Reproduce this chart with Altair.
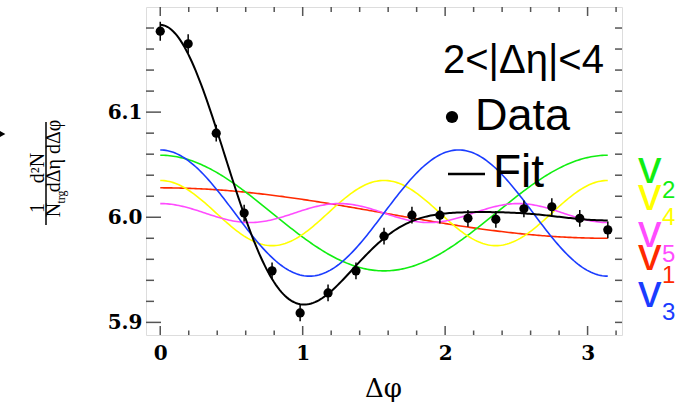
import numpy as np
import pandas as pd
import altair as alt

# ---------------- data ----------------
phi_points = [0.000, 0.196, 0.393, 0.589, 0.785, 0.982, 1.178, 1.374, 1.571,
              1.767, 1.963, 2.160, 2.356, 2.553, 2.749, 2.945, 3.142]
yield_points = [6.177, 6.165, 6.080, 6.004, 5.949, 5.909, 5.928, 5.949, 5.982,
                6.002, 6.002, 5.999, 5.998, 6.008, 6.010, 5.999, 5.988]
yield_errors = [0.009, 0.009, 0.008, 0.008, 0.008, 0.008, 0.008, 0.008, 0.008,
                0.008, 0.008, 0.008, 0.008, 0.008, 0.008, 0.008, 0.008]

# Fourier fit: b0 + a_n cos(n*phi)
fit_baseline = 6.004
harmonic_names = ["v1", "v2", "v3", "v4", "v5"]
harmonic_orders = [1, 2, 3, 4, 5]
harmonic_amplitudes = [0.024, 0.055, 0.060, 0.031, 0.009]
harmonic_colors = ["#ff2a00", "#11ee11", "#1a3cff", "#ffff00", "#ff4cff"]

x_major_ticks = [0, 1, 2, 3]
x_minor_ticks = [0.2, 0.4, 0.6, 0.8, 1.2, 1.4, 1.6, 1.8, 2.2, 2.4, 2.6, 2.8, 3.2]
y_major_ticks = [5.9, 6.0, 6.1]
y_minor_ticks = [5.92, 5.94, 5.96, 5.98, 6.02, 6.04, 6.06, 6.08,
                 6.12, 6.14, 6.16, 6.18]

# ---------------- tables ----------------
pts = pd.DataFrame({"phi": phi_points, "y": yield_points,
                    "lo": np.array(yield_points) - np.array(yield_errors),
                    "hi": np.array(yield_points) + np.array(yield_errors)})

grid = np.linspace(0, np.pi, 241)
rows = []
for name, n, a in zip(harmonic_names, harmonic_orders, harmonic_amplitudes):
    for g in grid:
        rows.append({"phi": g, "y": fit_baseline + a * np.cos(n * g), "comp": name})
comp = pd.DataFrame(rows)
total = fit_baseline + sum(a * np.cos(n * grid) for n, a in zip(harmonic_orders, harmonic_amplitudes))
fit = pd.DataFrame({"phi": grid, "y": total})

W, H = 476, 328
xs = alt.Scale(domain=[-0.1, np.pi + 0.1], nice=False, zero=False)
ys = alt.Scale(domain=[5.888, 6.2], nice=False, zero=False)

serif_b = "DejaVu Serif"

x_axis = alt.Axis(values=x_major_ticks, format="d", title="Δφ", grid=False,
                  ticks=False, tickSize=0, domain=False, labelFont=serif_b,
                  labelFontWeight="bold", labelFontSize=20, labelColor="black",
                  labelPadding=8, titleFont=serif_b, titleFontSize=26,
                  titleFontWeight="normal", titleColor="black", titleX=237,
                  titleY=61, titleAlign="center", titleBaseline="alphabetic")
y_axis = alt.Axis(values=y_major_ticks, format=".1f", title=None, grid=False,
                  ticks=False, tickSize=0, domain=False, labelFont=serif_b,
                  labelFontWeight="bold", labelFontSize=20, labelColor="black",
                  labelPadding=4)

def X(field):
    return alt.X(field, scale=xs, axis=x_axis)
def Y(field):
    return alt.Y(field, scale=ys, axis=y_axis)

layers = []

# component curves
comp_order = ["v1", "v2", "v4", "v5", "v3"]
for name in comp_order:
    i = harmonic_names.index(name)
    layers.append(
        alt.Chart(comp[comp.comp == name]).mark_line(color=harmonic_colors[i], strokeWidth=1.6)
        .encode(x=X("phi:Q"), y=Y("y:Q"))
    )

# total fit
layers.append(
    alt.Chart(fit).mark_line(color="black", strokeWidth=2)
    .encode(x=X("phi:Q"), y=Y("y:Q"))
)

# error bars
layers.append(
    alt.Chart(pts).mark_rule(color="black", strokeWidth=1.5)
    .encode(x=X("phi:Q"), y=Y("lo:Q"), y2="hi:Q")
)
# data points
layers.append(
    alt.Chart(pts).mark_point(filled=True, shape="circle", size=85, color="black", opacity=1)
    .encode(x=X("phi:Q"), y=Y("y:Q"))
)

# inward ticks
tick_col = "#555555"
def yticks(vals, x0, x1):
    return alt.Chart(pd.DataFrame({"t": vals})).mark_rule(color=tick_col, strokeWidth=1.5).encode(
        y=Y("t:Q"), x=alt.value(x0), x2=alt.value(x1))
def xticks(vals, y0, y1):
    return alt.Chart(pd.DataFrame({"t": vals})).mark_rule(color=tick_col, strokeWidth=1.5).encode(
        x=X("t:Q"), y=alt.value(y0), y2=alt.value(y1))

layers += [
    yticks(y_major_ticks, 0, 15), yticks(y_minor_ticks, 0, 8),
    yticks(y_major_ticks, W - 7, W), yticks(y_minor_ticks, W - 7, W),
    xticks(x_major_ticks, H - 9, H), xticks(x_minor_ticks, H - 4.5, H),
    xticks(x_major_ticks, 0, 9), xticks(x_minor_ticks, 0, 5),
]

one = pd.DataFrame({"a": [0]})
def txt(text, x, y, size, color="black", font="Liberation Sans", align="left",
        baseline="alphabetic", angle=0, weight="normal"):
    return alt.Chart(one).mark_text(text=text, font=font, fontSize=size, color=color,
                                    align=align, baseline=baseline, angle=angle,
                                    fontWeight=weight).encode(x=alt.value(x), y=alt.value(y))

# in-plot legend
layers += [
    txt("2<|Δη|<4", 297, 66, 40),
    alt.Chart(one).mark_point(filled=True, shape="circle", size=150, color="black", opacity=1)
        .encode(x=alt.value(306), y=alt.value(110)),
    txt("Data", 329, 123, 45),
    alt.Chart(one).mark_rule(color="black", strokeWidth=2.5)
        .encode(x=alt.value(302), x2=alt.value(339), y=alt.value(167)),
    txt("Fit", 347, 180, 46),
]

# right-hand labels of the harmonics
label_order = ["v2", "v4", "v5", "v1", "v3"]
v_base = [176, 203, 240, 263, 300]
s_base = [191, 218, 255, 276, 313]
for name, vb, sb in zip(label_order, v_base, s_base):
    c = harmonic_colors[harmonic_names.index(name)]
    layers.append(txt("v", 492, vb, 47, color=c))
    layers.append(txt(name[1], 516, sb, 24, color=c))

# y-axis title as a stacked fraction
fs = "Liberation Serif"
layers += [
    txt("1", -102, 201, 20, font=fs, align="center", angle=270),
    txt("d²N", -102, 161, 20, font=fs, align="center", angle=270),
    alt.Chart(one).mark_rule(color="black", strokeWidth=1.5)
        .encode(x=alt.value(-100), y=alt.value(115), y2=alt.value(218)),
    txt("N", -86, 203, 20, font=fs, align="center", angle=270),
    txt("trg", -81, 190, 12, font=fs, align="center", angle=270),
    txt("dΔη dΔφ", -86, 149, 20, font=fs, align="center", angle=270),
    alt.Chart(one).mark_point(filled=True, shape="triangle-right", size=60, color="black", opacity=1)
        .encode(x=alt.value(-144), y=alt.value(127)),
]

chart = alt.layer(*layers).properties(
    width=W, height=H,
    autosize=alt.AutoSizeParams(type="none"),
    padding={"left": 146, "top": 7, "right": 62, "bottom": 67},
).configure_view(stroke="#555555", strokeWidth=1.5).configure(background="white")

chart.save("out.html", embed_options={"renderer": "svg", "actions": False})
